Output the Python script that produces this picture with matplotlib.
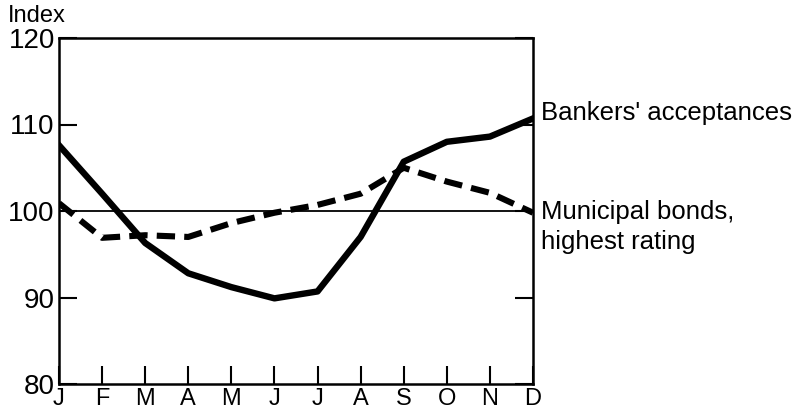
import matplotlib
matplotlib.use("Agg")
import matplotlib.pyplot as plt
import matplotlib.transforms as mtransforms

months = ["J", "F", "M", "A", "M", "J", "J", "A", "S", "O", "N", "D"]
bankers = [107.6, 102.0, 96.3, 92.8, 91.2, 89.9, 90.7, 97.0, 105.7, 108.0, 108.6, 110.7]
municipal = [100.9, 96.9, 97.2, 97.0, 98.6, 99.8, 100.7, 102.0, 105.0, 103.4, 102.1, 99.8]
y_ticks = [80, 90, 100, 110, 120]
label_bankers = "Bankers' acceptances"
label_muni_1 = "Municipal bonds,"
label_muni_2 = "highest rating"

plt.rcParams['font.family'] = ['Liberation Sans', 'DejaVu Sans']

fig = plt.figure(figsize=(7.94, 4.12), dpi=100)
ax = fig.add_axes([59/794, 1-384/412, (533-59)/794, (384-38)/412])

x = list(range(len(months)))
ax.axhline(100, color="black", lw=1.3, zorder=1)
ax.plot(x, bankers, color="black", lw=4.6, solid_joinstyle="round", zorder=3)
ax.plot(x, municipal, color="black", lw=4.4, dashes=(3.0, 1.5), dash_capstyle="butt", zorder=3)

ax.set_xlim(0, 11)
ax.set_ylim(80, 120)
ax.set_xticks(x)
ax.set_xticklabels(months, fontsize=17)
ax.set_yticks(y_ticks)
ax.set_yticklabels([str(v) for v in y_ticks], fontsize=20)
ax.tick_params(axis="x", direction="in", length=13, width=1.5, pad=3)
ax.tick_params(axis="y", direction="in", length=13, width=1.5, pad=3, right=True)
for s in ax.spines.values():
    s.set_linewidth(1.8)

trans = mtransforms.blended_transform_factory(ax.transAxes, ax.transData)
ax.text(1.017, 111.3, label_bankers, transform=trans, fontsize=18.5, va="center", ha="left")
ax.text(1.017, 99.9, label_muni_1, transform=trans, fontsize=18.5, va="center", ha="left")
ax.text(1.017, 96.4, label_muni_2, transform=trans, fontsize=18.5, va="center", ha="left")
fig.text(8/794, 1-16/412, "Index", fontsize=17, va="center", ha="left")

fig.savefig("out.png", dpi=100)
